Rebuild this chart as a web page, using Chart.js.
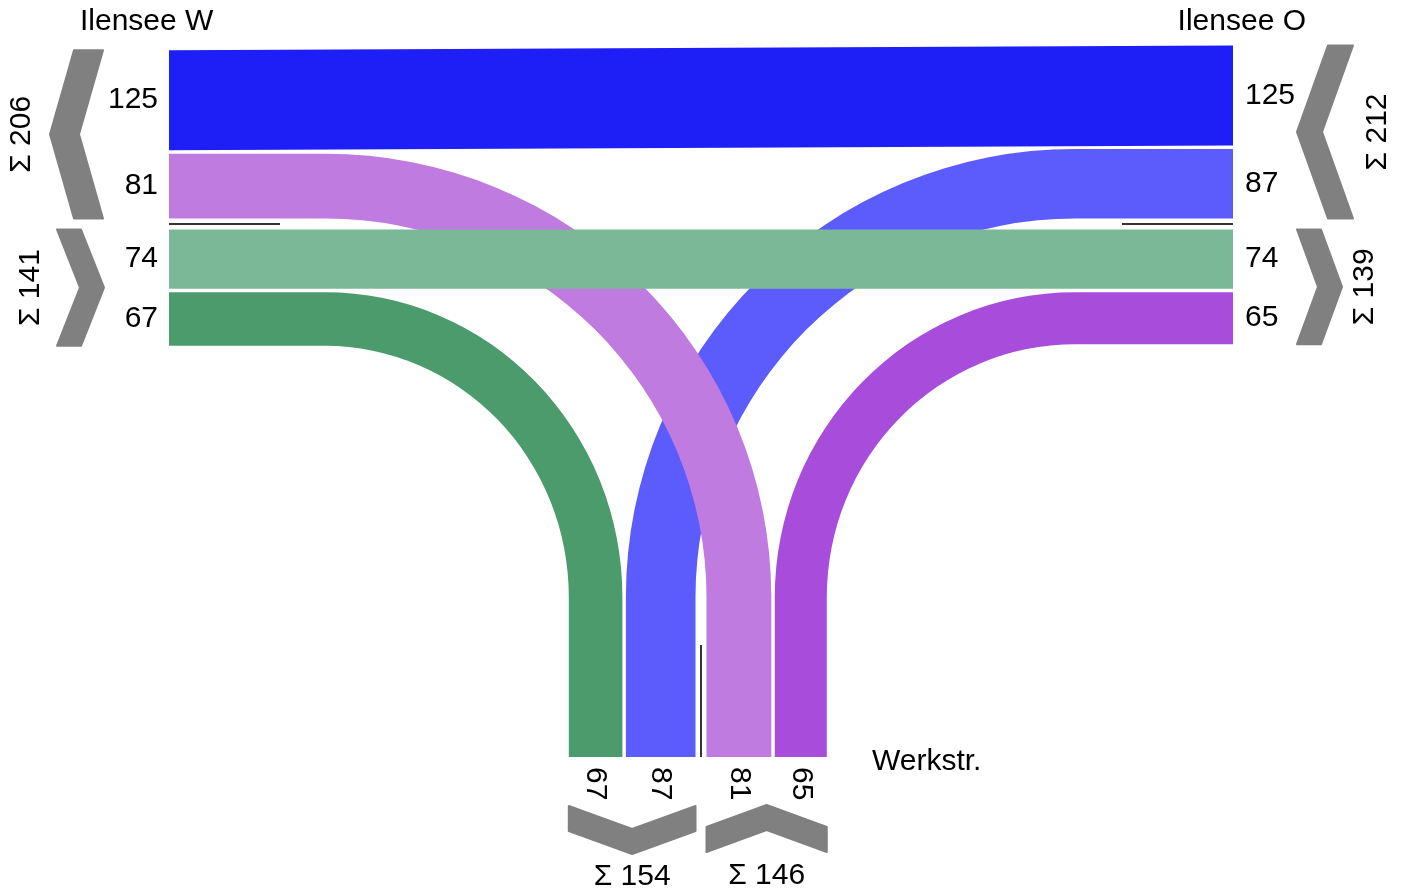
<!DOCTYPE html>
<html>
<head>
<meta charset="utf-8">
<script src="https://cdn.jsdelivr.net/npm/chart.js@4.4.1/dist/chart.umd.min.js"></script>
<style>
  html, body { margin: 0; padding: 0; background: #fff; }
  #wrap { width: 1403px; height: 893px; }
</style>
</head>
<body>
<div id="wrap"><canvas id="ctx"></canvas></div>
<script>
const armNames = ["Ilensee W", "Ilensee O", "Werkstr."];
const flowKeys = ["W-O", "W-S", "O-W", "S-W", "O-S", "S-O"]; // from-to (S = Werkstr.)
const flowValues = [125, 81, 74, 67, 87, 65];
const flowColors = ["#1e1ef7", "#c07be0", "#7bb897", "#4b9b6c", "#5c5cfd", "#a74cdb"];
const drawOrder = ["W-O", "O-S", "W-S", "S-W", "S-O", "O-W"]; // last one on top

// lanes of each arm, listed from the centre divider outward
const westUpper = ["W-S", "W-O"];
const westLower = ["O-W", "S-W"];
const eastUpper = ["O-S", "W-O"];
const eastLower = ["O-W", "S-O"];
const southLeft = ["O-S", "S-W"];
const southRight = ["W-S", "S-O"];

// layout (chart units = px)
const K = 0.8, GAP = 3.5, HALF = 5.5;
const G = { westX: 169, eastX: 1233, southY: 757, midY: 224, midX: 701, bendW: 325, bendE: 1075, bendS: 597 };

const val = k => flowValues[flowKeys.indexOf(k)];
const col = k => flowColors[flowKeys.indexOf(k)];

function stack(keys, start, dir) {
  let pos = start + dir * HALF;
  const out = {};
  keys.forEach(k => {
    const b = pos + dir * val(k) * K;
    out[k] = [Math.min(pos, b), Math.max(pos, b)];
    pos = b + dir * GAP;
  });
  return out;
}
const span = (lanes) => {
  const v = Object.values(lanes);
  return [Math.min(...v.map(a => a[0])), Math.max(...v.map(a => a[1]))];
};
const total = keys => keys.reduce((s, k) => s + val(k), 0);

const wU = stack(westUpper, G.midY, -1), wL = stack(westLower, G.midY, 1);
const eU = stack(eastUpper, G.midY, -1), eL = stack(eastLower, G.midY, 1);
const sL = stack(southLeft, G.midX, -1), sR = stack(southRight, G.midX, 1);
const W = Object.assign({}, wU, wL), E = Object.assign({}, eU, eL), S = Object.assign({}, sL, sR);

const junction = {
  id: "junction",
  afterDatasetsDraw(chart) {
    const { ctx, scales: { x, y } } = chart;
    const px = v => x.getPixelForValue(v), py = v => y.getPixelForValue(v);
    ctx.save();

    drawOrder.forEach(k => {
      ctx.fillStyle = col(k);
      ctx.beginPath();
      if (k === "W-O" || k === "O-W") {
        ctx.moveTo(px(G.westX), py(W[k][0]));
        ctx.lineTo(px(G.eastX), py(E[k][0]));
        ctx.lineTo(px(G.eastX), py(E[k][1]));
        ctx.lineTo(px(G.westX), py(W[k][1]));
      } else if (k === "W-S" || k === "S-W") {
        const cx = px(G.bendW), cy = py(G.bendS);
        const yo = py(W[k][0]), yi = py(W[k][1]);
        const xo = px(S[k][1]), xi = px(S[k][0]);
        ctx.moveTo(px(G.westX), yo);
        ctx.lineTo(cx, yo);
        ctx.ellipse(cx, cy, xo - cx, cy - yo, 0, -Math.PI / 2, 0, false);
        ctx.lineTo(xo, py(G.southY));
        ctx.lineTo(xi, py(G.southY));
        ctx.lineTo(xi, cy);
        ctx.ellipse(cx, cy, xi - cx, cy - yi, 0, 0, -Math.PI / 2, true);
        ctx.lineTo(px(G.westX), yi);
      } else {
        const cx = px(G.bendE), cy = py(G.bendS);
        const yo = py(E[k][0]), yi = py(E[k][1]);
        const xo = px(S[k][0]), xi = px(S[k][1]);
        ctx.moveTo(px(G.eastX), yo);
        ctx.lineTo(cx, yo);
        ctx.ellipse(cx, cy, cx - xo, cy - yo, 0, -Math.PI / 2, -Math.PI, true);
        ctx.lineTo(xo, py(G.southY));
        ctx.lineTo(xi, py(G.southY));
        ctx.lineTo(xi, cy);
        ctx.ellipse(cx, cy, cx - xi, cy - yi, 0, -Math.PI, -Math.PI / 2, false);
        ctx.lineTo(px(G.eastX), yi);
      }
      ctx.closePath();
      ctx.fill();
    });

    // centre dividers
    ctx.strokeStyle = "#333";
    ctx.lineWidth = 2;
    ctx.beginPath();
    ctx.moveTo(px(G.westX), py(G.midY)); ctx.lineTo(px(280), py(G.midY));
    ctx.moveTo(px(1122), py(G.midY)); ctx.lineTo(px(G.eastX), py(G.midY));
    ctx.moveTo(px(G.midX), py(645)); ctx.lineTo(px(G.midX), py(G.southY));
    ctx.stroke();

    // chevrons
    const chev = (axis, sp, tBase, tTip, th) => {
      const s0 = sp[0], s1 = sp[1], sm = (s0 + s1) / 2;
      let pts = [[tBase, s0], [tBase + th, s0], [tTip + th, sm], [tBase + th, s1], [tBase, s1], [tTip, sm]];
      if (axis === "x") pts = pts.map(p => [p[1], p[0]]);
      ctx.beginPath();
      pts.forEach((p, i) => i ? ctx.lineTo(px(p[0]), py(p[1])) : ctx.moveTo(px(p[0]), py(p[1])));
      ctx.closePath();
      ctx.fillStyle = "#808080";
      ctx.strokeStyle = "#808080";
      ctx.lineJoin = "round";
      ctx.lineWidth = 2;
      ctx.fill();
      ctx.stroke();
    };
    chev("y", span(wU), 74, 50, 29);
    chev("y", span(wL), 57, 80, 24);
    chev("y", span(eU), 1328, 1297, 25);
    chev("y", span(eL), 1297, 1318, 24);
    chev("x", span(sL), 806, 829, 25);
    chev("x", span(sR), 827, 805, 25);

    // texts
    ctx.fillStyle = "#000";
    const text = (str, xv, yv, align, rot, size) => {
      ctx.save();
      ctx.translate(px(xv), py(yv));
      ctx.rotate(rot);
      ctx.font = size + 'px "Liberation Sans", Arial, sans-serif';
      ctx.textAlign = align;
      ctx.textBaseline = "middle";
      ctx.fillText(str, 0, 0);
      ctx.restore();
    };
    text(armNames[0], 80, 22, "left", 0, 30);
    text(armNames[1], 1306, 22, "right", 0, 30);
    text(armNames[2], 872, 762, "left", 0, 30);

    Object.keys(W).forEach(k => text(String(val(k)), 158, (W[k][0] + W[k][1]) / 2, "right", 0, 30));
    Object.keys(E).forEach(k => text(String(val(k)), 1245, (E[k][0] + E[k][1]) / 2, "left", 0, 30));
    Object.keys(S).forEach(k => text(String(val(k)), (S[k][0] + S[k][1]) / 2, 767, "left", Math.PI / 2, 30));

    const mid = a => (a[0] + a[1]) / 2;
    text("Σ " + total(westUpper), 22, mid(span(wU)), "center", -Math.PI / 2, 30);
    text("Σ " + total(westLower), 31, mid(span(wL)), "center", -Math.PI / 2, 30);
    text("Σ " + total(eastUpper), 1378, mid(span(eU)), "center", -Math.PI / 2, 30);
    text("Σ " + total(eastLower), 1365, mid(span(eL)), "center", -Math.PI / 2, 30);
    text("Σ " + total(southLeft), mid(span(sL)), 877, "center", 0, 30);
    text("Σ " + total(southRight), mid(span(sR)), 876, "center", 0, 30);

    ctx.restore();
  }
};

const ctx = document.getElementById("ctx").getContext("2d");
new Chart(ctx, {
  type: "scatter",
  data: { datasets: [{ data: [] }] },
  options: {
    responsive: true,
    maintainAspectRatio: false,
    animation: false,
    layout: { padding: 0 },
    plugins: { legend: { display: false }, tooltip: { enabled: false } },
    scales: {
      x: { type: "linear", display: false, min: 0, max: 1403 },
      y: { type: "linear", display: false, min: 0, max: 893, reverse: true }
    }
  },
  plugins: [junction]
});
</script>
</body>
</html>
